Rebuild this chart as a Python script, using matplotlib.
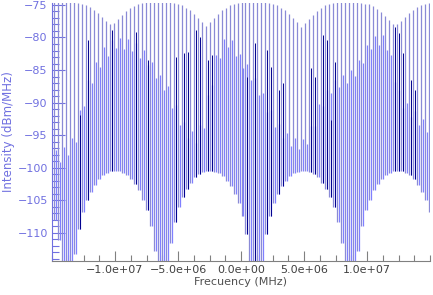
import numpy as np
import matplotlib.pyplot as plt
from matplotlib.ticker import MultipleLocator, FixedLocator, FuncFormatter

# comb line frequencies (Hz) and the levels (dBm/MHz)
line_freq = np.linspace(-1.482e7, 1.490e7, 95)
fill_offset = 1.58e5
x_ticks = [-1.0e7, -5.0e6, 0.0, 5.0e6, 1.0e7]

peak_db = [
    -74.6, -74.6, -74.6, -74.6, -74.6, -74.6, -74.7, -74.8, -75.0, -75.3,
    -75.7, -76.2, -76.8, -77.4, -78.0, -77.7, -77.1, -76.5, -76.0, -75.5,
    -75.1, -74.9, -74.7, -74.6, -74.6, -74.6, -74.6, -74.6, -74.6, -74.6,
    -74.7, -74.8, -75.0, -75.4, -75.8, -76.4, -77.0, -77.6, -78.2, -77.6,
    -77.0, -76.4, -75.8, -75.4, -75.0, -74.8, -74.7, -74.6, -74.6, -74.6,
    -74.6, -74.6, -74.6, -74.6, -74.7, -74.8, -75.0, -75.4, -75.8, -76.4,
    -77.0, -77.6, -78.4, -77.8, -77.1, -76.5, -75.9, -75.4, -75.0, -74.8,
    -74.7, -74.6, -74.6, -74.6, -74.6, -74.6, -74.6, -74.7, -74.8, -74.9,
    -75.2, -75.6, -76.1, -76.7, -77.3, -78.0, -78.0, -77.4, -76.8, -76.2,
    -75.7, -75.3, -75.0, -74.8, -74.7,
]

floor_db = [
    -108.0, -111.1, -116.0, -118.0, -118.0, -113.2, -109.4, -106.8, -105.0, -103.7,
    -102.6, -101.8, -101.2, -100.8, -100.5, -100.5, -100.5, -100.8, -101.2, -101.7,
    -102.5, -103.5, -104.9, -106.5, -109.0, -112.8, -118.0, -118.0, -117.0, -111.6,
    -108.4, -106.1, -104.5, -103.3, -102.3, -101.5, -101.0, -100.7, -100.5, -100.5,
    -100.6, -100.9, -101.3, -102.0, -102.8, -104.0, -105.4, -107.4, -110.2, -114.5,
    -118.0, -118.0, -114.5, -110.2, -107.4, -105.4, -104.0, -102.8, -102.0, -101.3,
    -100.9, -100.6, -100.5, -100.5, -100.7, -101.0, -101.5, -102.3, -103.3, -104.5,
    -106.1, -108.4, -111.6, -117.0, -118.0, -118.0, -112.8, -109.0, -106.5, -104.9,
    -103.5, -102.5, -101.7, -101.2, -100.8, -100.5, -100.5, -100.5, -100.8, -101.2,
    -101.8, -102.6, -103.7, -105.0, -106.8,
]

fill_db = [
    -97.3, -99.1, -96.8, -98.0, -95.5, -96.0, -91.1, -90.6, -86.5, -87.0,
    -83.8, -84.5, -81.5, -82.8, -80.4, -81.6, -80.1, -81.8, -80.2, -82.0,
    -80.8, -83.1, -81.9, -84.3, -83.8, -86.2, -85.8, -88.0, -87.5, -90.8,
    -90.4, -93.4, -93.0, -95.4, -94.4, -96.2, -93.4, -93.9, -88.8, -87.3,
    -82.7, -83.1, -80.2, -81.4, -80.4, -82.8, -82.5, -84.7, -84.1, -86.5,
    -86.2, -88.8, -88.5, -91.4, -91.1, -93.7, -93.3, -95.4, -94.7, -96.6,
    -95.4, -97.2, -95.6, -96.3, -93.6, -93.6, -90.2, -90.5, -88.1, -88.6,
    -86.5, -87.6, -85.8, -87.0, -85.0, -85.9, -83.5, -83.9, -81.1, -81.7,
    -79.8, -81.1, -79.6, -81.9, -82.7, -86.8, -88.1, -90.8, -90.1, -92.2,
    -91.3, -93.4, -92.5, -94.6, -93.6,
]

# second channel, only where it shows up in dark blue
dark_idx = [6, 8, 14, 20, 23, 30, 32, 33, 35, 36, 38, 39, 48, 50, 53, 54, 56, 57,
            64, 65, 67, 68, 69, 70, 85, 86, 87, 89, 90]
dark_db = [-91.9, -80.4, -78.8, -79.2, -83.5, -83.0, -82.4, -82.2, -78.8, -79.9,
           -83.5, -82.7, -86.1, -80.8, -81.9, -84.5, -88.1, -87.0, -84.7, -86.1,
           -79.6, -80.4, -92.7, -83.8, -78.4, -79.3, -82.4, -86.5, -88.0]

c_peak = "#8a8ad6"
c_fill = "#8080ff"
c_dark = "#00008c"
c_axis = "#7070e0"

fig = plt.figure(figsize=(4.33, 2.95), dpi=100)
ax = fig.add_axes([52 / 433, 1 - 261 / 295, 378 / 433, 258 / 295])

floor = np.array(floor_db)
ax.vlines(line_freq, floor, peak_db, colors=c_peak, lw=0.9)
ax.vlines(line_freq + fill_offset, floor, fill_db, colors=c_fill, lw=0.9)
didx = np.array(dark_idx)
ax.vlines(line_freq[didx] + fill_offset, floor[didx], dark_db, colors=c_dark, lw=0.7)

ax.set_xlim(-1.5e7, 1.5e7)
ax.set_ylim(-114.35, -74.7)

for s in ("top", "right"):
    ax.spines[s].set_visible(False)
ax.spines["left"].set_color(c_axis)
ax.spines["bottom"].set_color("#808080")

ax.xaxis.set_major_locator(FixedLocator(x_ticks))
ax.xaxis.set_minor_locator(MultipleLocator(1.25e6))
ax.yaxis.set_major_locator(MultipleLocator(5))
ax.yaxis.set_minor_locator(MultipleLocator(1))
ax.xaxis.set_major_formatter(FuncFormatter(lambda v, p: f"{v:.1e}".replace("-", "\u2212")))
ax.yaxis.set_major_formatter(FuncFormatter(lambda v, p: f"{v:.0f}".replace("-", "\u2212")))

ax.tick_params(axis="x", which="both", direction="in", colors="#808080",
               labelcolor="#404040", labelsize=8, pad=3)
ax.tick_params(axis="x", which="major", length=7, width=0.8)
ax.tick_params(axis="x", which="minor", length=4, width=0.8)
ax.tick_params(axis="y", which="both", direction="in", colors=c_axis,
               labelcolor=c_axis, labelsize=8, pad=3)
ax.tick_params(axis="y", which="major", length=9, width=0.8)
ax.tick_params(axis="y", which="minor", length=5, width=0.8)

ax.set_xlabel("Frecuency (MHz)", fontsize=8, color="#505050", labelpad=1)
ax.set_ylabel("Intensity (dBm/MHz)", fontsize=8.5, color=c_axis, labelpad=2)

fig.savefig("out.png", dpi=100)
